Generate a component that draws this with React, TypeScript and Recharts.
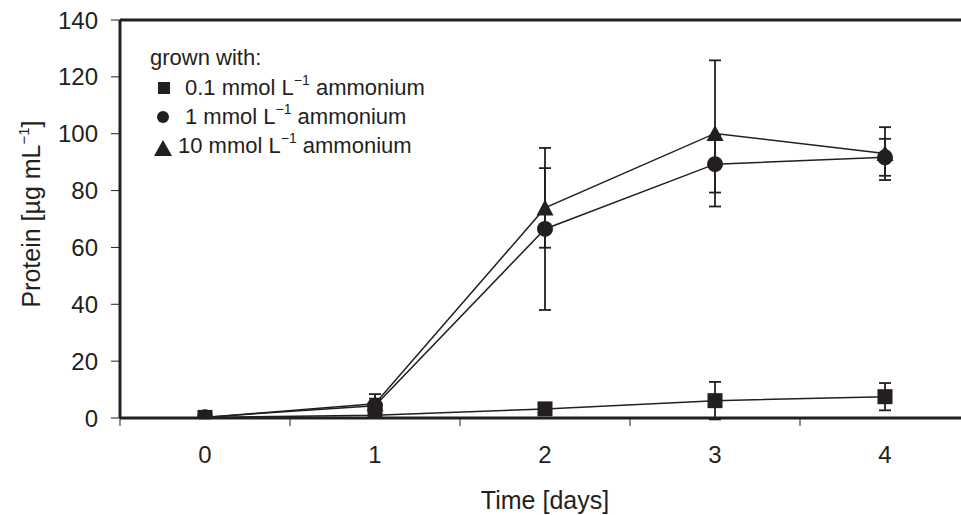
import React from 'react';
import { LineChart, Line, XAxis, YAxis, ErrorBar, ReferenceLine, Legend } from 'recharts';

const INK = '#231f20';
const FONT = '"Liberation Sans", Arial, Helvetica, sans-serif';

// ---- data ----
const days = [0, 1, 2, 3, 4];
const low = [0.2, 1.0, 3.2, 6.1, 7.5];       // 0.1 mmol L-1 ammonium
const lowErr = [0.3, 0.5, 0.8, 6.6, 4.8];
const mid = [0.3, 4.3, 66.5, 89.3, 91.7];    // 1 mmol L-1 ammonium
const midErr = [0.3, 2.5, 28.5, 10.0, 6.5];
const high = [0.2, 5.0, 73.9, 100.1, 93.0];  // 10 mmol L-1 ammonium
const highErr = [0.3, 3.4, 14.0, 25.7, 9.3];

const yTicks = [0, 20, 40, 60, 80, 100, 120, 140];
const xLabelTicks = [0, 1, 2, 3, 4];
const xMarkTicks = [-0.5, 0.5, 1.5, 2.5, 3.5, 4.5];
const xDomain: [number, number] = [-0.5, 4.5];
const yDomain: [number, number] = [0, 140];

const data = days.map((d, i) => ({
  day: d,
  low: low[i],
  lowErr: lowErr[i],
  mid: mid[i],
  midErr: midErr[i],
  high: high[i],
  highErr: highErr[i],
}));

// ---- marker shapes ----
const SquareDot = (props: any) => {
  const { cx, cy } = props;
  if (cx == null || cy == null) return <g />;
  return <rect x={cx - 7.5} y={cy - 7.5} width={15} height={15} fill={INK} />;
};
const CircleDot = (props: any) => {
  const { cx, cy } = props;
  if (cx == null || cy == null) return <g />;
  return <circle cx={cx} cy={cy} r={8} fill={INK} />;
};
const TriangleDot = (props: any) => {
  const { cx, cy } = props;
  if (cx == null || cy == null) return <g />;
  return <polygon points={`${cx},${cy - 8.5} ${cx + 8.5},${cy + 7.5} ${cx - 8.5},${cy + 7.5}`} fill={INK} />;
};

const LegendBox = () => {
  const t = { fontFamily: FONT, fontSize: 22, fill: INK } as const;
  const sup = (
    <>
      <tspan dy={-10} fontSize={14}>−1</tspan>
      <tspan dy={10}> ammonium</tspan>
    </>
  );
  return (
    <svg width={320} height={140} style={{ display: 'block', overflow: 'visible' }}>
      <text x={10} y={35} {...t}>grown with:</text>
      <rect x={18} y={52} width={12} height={12} fill={INK} />
      <text x={45} y={65} {...t}>0.1 mmol L{sup}</text>
      <circle cx={23} cy={87} r={6} fill={INK} />
      <text x={45} y={94} {...t}>1 mmol L{sup}</text>
      <polygon points="23,110 32,126 14,126" fill={INK} />
      <text x={38} y={123} {...t}>10 mmol L{sup}</text>
    </svg>
  );
};

const YTitle = (props: any) => {
  const vb = props.viewBox || { x: 0, y: 20, width: 120, height: 398 };
  const cx = vb.x + 40;
  const cy = vb.y + vb.height / 2 - 5;
  return (
    <text
      x={cx}
      y={cy}
      transform={`rotate(-90, ${cx}, ${cy})`}
      textAnchor="middle"
      fontFamily={FONT}
      fontSize={25}
      fill={INK}
    >
      Protein [µg mL<tspan dy={-11} fontSize={15}>−1</tspan>
      <tspan dy={11}>]</tspan>
    </text>
  );
};

const tickStyle = { fontFamily: FONT, fontSize: 24, fill: INK };

export default function App() {
  return (
    <div
      style={{
        position: 'absolute',
        left: 0,
        top: 0,
        width: 961,
        height: 515,
        overflow: 'hidden',
        background: '#fff',
        fontFamily: FONT,
      }}
    >
      <LineChart width={970} height={515} data={data} margin={{ top: 20, right: 0, bottom: 0, left: 0 }}>
        <XAxis
          xAxisId="a_marks"
          type="number"
          dataKey="day"
          domain={xDomain}
          ticks={xMarkTicks}
          interval={0}
          height={1}
          tickSize={8}
          tickFormatter={() => ''}
          tickLine={{ stroke: INK, strokeWidth: 1 }}
          axisLine={{ stroke: INK, strokeWidth: 3 }}
          allowDataOverflow
        />
        <XAxis
          xAxisId="b_labels"
          type="number"
          dataKey="day"
          domain={xDomain}
          ticks={xLabelTicks}
          interval={0}
          height={96}
          tickSize={6}
          tickMargin={21}
          tickLine={false}
          axisLine={false}
          tick={tickStyle}
          allowDataOverflow
          label={{ value: 'Time [days]', position: 'insideBottom', offset: 6, fontSize: 25, fill: INK, fontFamily: FONT }}
        />
        <YAxis
          type="number"
          domain={yDomain}
          ticks={yTicks}
          interval={0}
          width={120}
          tickSize={9}
          tickMargin={13}
          tick={tickStyle}
          tickLine={{ stroke: INK, strokeWidth: 1 }}
          axisLine={{ stroke: INK, strokeWidth: 3 }}
          allowDataOverflow
          label={<YTitle />}
        />
        <ReferenceLine xAxisId="b_labels" y={140} stroke={INK} strokeWidth={3} ifOverflow="extendDomain" />
        <Line
          xAxisId="b_labels"
          dataKey="low"
          stroke={INK}
          strokeWidth={1.5}
          dot={SquareDot}
          activeDot={false}
          isAnimationActive={false}
        >
          <ErrorBar dataKey="lowErr" width={6} strokeWidth={1.8} stroke={INK} direction="y" isAnimationActive={false} />
        </Line>
        <Line
          xAxisId="b_labels"
          dataKey="mid"
          stroke={INK}
          strokeWidth={1.5}
          dot={CircleDot}
          activeDot={false}
          isAnimationActive={false}
        >
          <ErrorBar dataKey="midErr" width={6} strokeWidth={1.8} stroke={INK} direction="y" isAnimationActive={false} />
        </Line>
        <Line
          xAxisId="b_labels"
          dataKey="high"
          stroke={INK}
          strokeWidth={1.5}
          dot={TriangleDot}
          activeDot={false}
          isAnimationActive={false}
        >
          <ErrorBar dataKey="highErr" width={6} strokeWidth={1.8} stroke={INK} direction="y" isAnimationActive={false} />
        </Line>
        <Legend
          layout="vertical"
          align="center"
          verticalAlign="middle"
          wrapperStyle={{ left: 140, top: 30, width: 320, height: 140 }}
          content={LegendBox}
        />
      </LineChart>
    </div>
  );
}
